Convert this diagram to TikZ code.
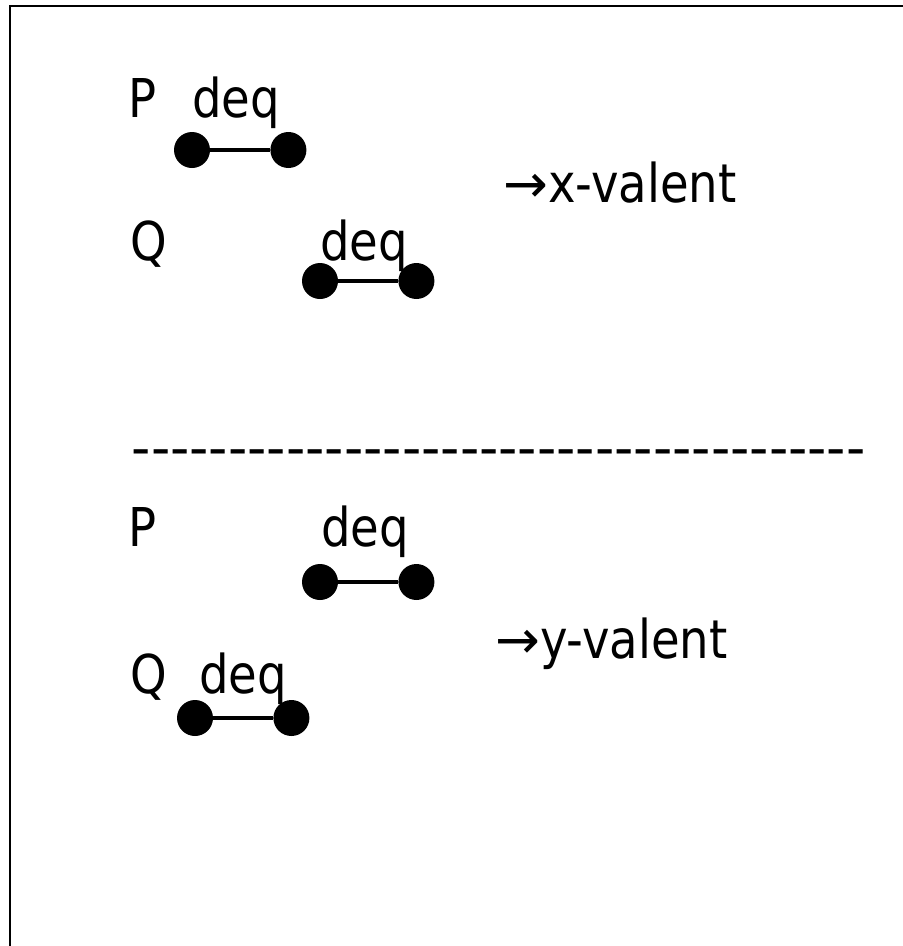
\documentclass[tikz,border=0pt]{standalone}
\usepackage{fontspec}
\setmainfont{DejaVu Sans}[FakeStretch=0.87]
\newfontfamily\rulefont{DejaVu Sans}
\usepackage{tikz}
\usetikzlibrary{positioning}
\newcommand\impl{{\rulefont →}}
\tikzset{
  lbl/.style={anchor=base west, inner sep=0pt, font=\fontsize{53.5}{60}\selectfont},
  dot/.style={circle, fill=black, inner sep=0pt, minimum size=36pt},
  bond/.style={line width=4pt, color=black},
  frame/.style={line width=2pt, color=black},
}

\begin{document}
\begin{tikzpicture}[x=1pt, y=-1pt]
  \useasboundingbox (0,0) rectangle (903,946);
  \draw[frame] (10,5.5) rectangle (940,980);
  % first case: P decides early
  \node[lbl] (p1) at (128,117) {P};
  \node[lbl] (dq1) at (192,117) {deq};
  \node[dot] (a1) at (192,150) {};
  \node[dot, right=60pt of a1] (a2) {};
  \draw[bond](a1)--(a2);
  \node[lbl] (q1) at (130,260) {Q};
  \node[lbl] (dq2) at (320,260) {deq};
  \node[dot] (b1) at (320,281) {};
  \node[dot, right=60pt of b1] (b2) {};
  \draw[bond](b1)--(b2);
  \node[lbl] (xv) at (503,202) {\impl x-valent};
  % separator
  \node[lbl, font=\fontsize{53.5}{60}\rulefont] (sep) at (131.5,466.5)
    {\foreach \n in {1,...,38}{-}};
  % second case: Q decides early
  \node[lbl] (p2) at (128,546) {P};
  \node[lbl] (dq3) at (321,546) {deq};
  \node[dot] (c1) at (320,582) {};
  \node[dot, right=60pt of c1] (c2) {};
  \draw[bond](c1)--(c2);
  \node[lbl] (q2) at (130,693) {Q};
  \node[lbl] (dq4) at (199,693) {deq};
  \node[dot] (d1) at (195,718) {};
  \node[dot, right=60pt of d1] (d2) {};
  \draw[bond](d1)--(d2);
  \node[lbl] (yv) at (495,658) {\impl y-valent};
\end{tikzpicture}
\end{document}
